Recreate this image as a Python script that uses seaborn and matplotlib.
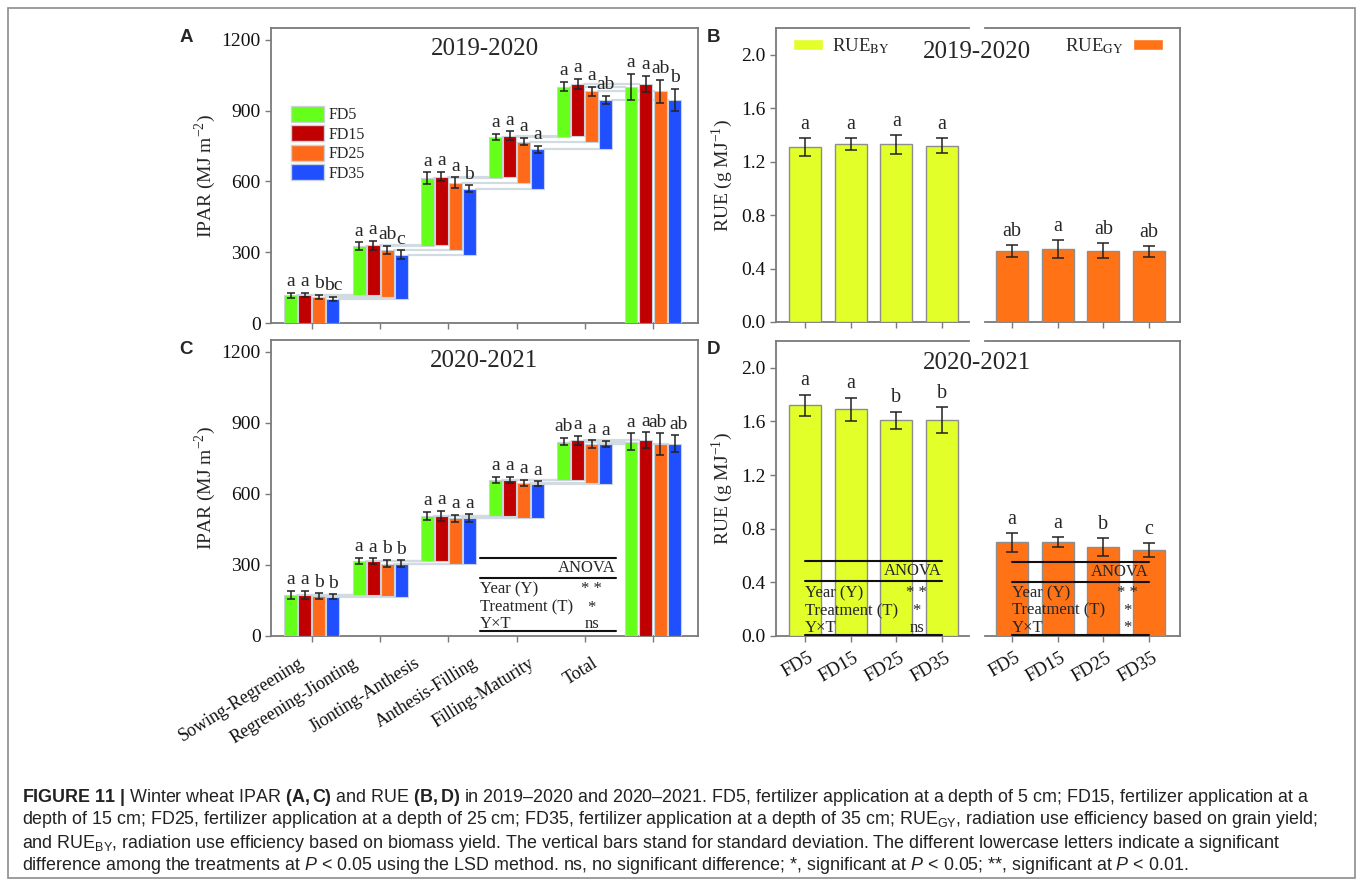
import numpy as np
import pandas as pd
import matplotlib
matplotlib.use("Agg")
import matplotlib.pyplot as plt
import seaborn as sns
from matplotlib.patches import Rectangle, Patch
from matplotlib.transforms import ScaledTranslation
from matplotlib import font_manager

# style
sns.set_theme(style="ticks")
plt.rcParams['font.family'] = ['Liberation Serif', 'DejaVu Serif']
plt.rcParams['mathtext.fontset'] = 'stix'

installed = {f.name for f in font_manager.fontManager.ttflist}
cap_font = 'Liberation Sans Narrow' if 'Liberation Sans Narrow' in installed else 'Liberation Sans'
cap_size = 15.5 if cap_font == 'Liberation Sans Narrow' else 12.9
plt.rcParams['mathtext.rm'] = cap_font
plt.rcParams['mathtext.it'] = cap_font + ':italic'
plt.rcParams['mathtext.bf'] = cap_font + ':bold'

# DATA
stages = ["Sowing-Regreening", "Regreening-Jionting", "Jionting-Anthesis",
          "Anthesis-Filling", "Filling-Maturity", "Total"]
treatments = ["FD5", "FD15", "FD25", "FD35"]
fd_colors = ["#66ff1a", "#c00000", "#ff6a1a", "#1f4fff"]

# cumulative IPAR at the end of each stage (rows = stage, cols = treatment)
ipar_1920 = [[118, 118, 111, 102],
             [326, 330, 309, 290],
             [613, 620, 594, 568],
             [787, 794, 769, 736],
             [1002, 1013, 981, 945]]
ipar_1920_sd = [[10, 8, 8, 10],
                [16, 19, 18, 18],
                [25, 20, 23, 15],
                [13, 18, 14, 15],
                [20, 20, 19, 16],
                [55, 35, 50, 46]]   # last row = Total
ipar_1920_letters = [["a", "a", "b", "bc"],
                     ["a", "a", "ab", "c"],
                     ["a", "a", "a", "b"],
                     ["a", "a", "a", "a"],
                     ["a", "a", "a", "ab"],
                     ["a", "a", "ab", "b"]]

ipar_2021 = [[173, 173, 168, 166],
             [317, 316, 306, 305],
             [508, 508, 497, 497],
             [660, 660, 646, 643],
             [821, 826, 811, 811]]
ipar_2021_sd = [[16, 16, 12, 10],
                [14, 12, 14, 14],
                [17, 21, 15, 17],
                [13, 12, 14, 10],
                [14, 19, 17, 11],
                [35, 34, 45, 36]]
ipar_2021_letters = [["a", "a", "b", "b"],
                     ["a", "a", "b", "b"],
                     ["a", "a", "a", "a"],
                     ["a", "a", "a", "a"],
                     ["ab", "a", "a", "a"],
                     ["a", "a", "ab", "ab"]]

rue_by_1920 = [1.31, 1.33, 1.33, 1.32]
rue_by_1920_sd = [0.065, 0.045, 0.07, 0.055]
rue_by_1920_letters = ["a", "a", "a", "a"]
rue_gy_1920 = [0.53, 0.545, 0.535, 0.53]
rue_gy_1920_sd = [0.045, 0.065, 0.053, 0.04]
rue_gy_1920_letters = ["ab", "a", "ab", "ab"]

rue_by_2021 = [1.72, 1.69, 1.61, 1.61]
rue_by_2021_sd = [0.08, 0.088, 0.063, 0.095]
rue_by_2021_letters = ["a", "a", "b", "b"]
rue_gy_2021 = [0.70, 0.70, 0.663, 0.638]
rue_gy_2021_sd = [0.07, 0.036, 0.065, 0.052]
rue_gy_2021_letters = ["a", "a", "b", "c"]

by_color = "#e2ff2a"
gy_color = "#ff7316"

# ANOVA tables (term, significance)
anova_ipar = [("Year (Y)", "* *"), ("Treatment (T)", "*"), ("Y\u00d7T", "ns")]
anova_by = [("Year (Y)", "* *"), ("Treatment (T)", "*"), ("Y\u00d7T", "ns")]
anova_gy = [("Year (Y)", "* *"), ("Treatment (T)", "*"), ("Y\u00d7T", "*")]

spine_col = "#7a7a7a"
W, H = 1358, 885
fig = plt.figure(figsize=(W / 100, H / 100), dpi=100)


def px_axes(l, t, r, b):
    return fig.add_axes([l / W, 1 - b / H, (r - l) / W, (b - t) / H])


def style_axes(ax):
    for s in ax.spines.values():
        s.set_color(spine_col)
        s.set_linewidth(1.3)
    ax.tick_params(direction='out', length=4, width=1, color=spine_col,
                   labelsize=14, labelcolor='#111111')


def letter_nudges(labels):
    # push neighbouring two-letter labels apart a little so they don't collide
    nudge = [0.0] * len(labels)
    for i in range(len(labels) - 1):
        if len(labels[i]) > 1 and len(labels[i + 1]) > 1:
            nudge[i] -= 2.0
            nudge[i + 1] += 2.5
    return nudge


def waterfall(ax, cum, sd, letters, title, show_labels):
    n = len(stages)
    width = 0.19
    prev = np.zeros(4)
    for k in range(n):
        step = 0.205 if k < n - 1 else 0.215
        offs = (np.arange(4) - 1.5) * step
        if k < n - 1:
            bottoms, tops = prev, np.array(cum[k], float)
        else:
            bottoms, tops = np.zeros(4), np.array(cum[-1], float)
        xs = k + offs
        ax.bar(xs, tops - bottoms, width=width, bottom=bottoms, color=fd_colors,
               edgecolor="#c9d1d9", linewidth=0.8, zorder=3)
        ax.errorbar(xs, tops, yerr=sd[k], fmt='none', ecolor='#222222',
                    elinewidth=1.1, capsize=3, capthick=1.1, zorder=4)
        for x, t, e, lab, dx in zip(xs, tops, sd[k], letters[k], letter_nudges(letters[k])):
            ax.annotate(lab, (x, t + e), xytext=(dx, 2), textcoords='offset points',
                        ha='center', va='bottom', fontsize=14, zorder=5, annotation_clip=False)
        # connectors to the next stage
        if k < n - 1:
            nstep = 0.205 if k + 1 < n - 1 else 0.215
            nxt = k + 1 + (np.arange(4) - 1.5) * nstep
            for i in range(4):
                ax.plot([xs[i] + width / 2, nxt[i] - width / 2], [tops[i], tops[i]],
                        color="#d3dbe2", lw=1.6, zorder=1)
        prev = tops
    ax.set_xlim(-0.6, 5.66)
    ax.set_ylim(0, 1250)
    ax.set_yticks([0, 300, 600, 900, 1200])
    ax.set_xticks(range(n))
    style_axes(ax)
    ax.set_ylabel(r"IPAR (MJ m$^{\mathregular{-2}}$)", fontsize=14)
    ax.yaxis.set_label_coords(-0.125, 0.5)
    ax.text(0.5, 0.93, title, transform=ax.transAxes, ha='center', va='center', fontsize=18)
    if show_labels:
        ax.set_xticklabels(stages, rotation=32, ha='right', rotation_mode='anchor', fontsize=13)
        shifts = [-10, -20, -25, -32, -41, -44]
        for lab, s in zip(ax.get_xticklabels(), shifts):
            lab.set_transform(lab.get_transform() + ScaledTranslation(s / 72, -6 / 72, fig.dpi_scale_trans))
    else:
        ax.set_xticklabels([])


def rue_bars(ax, vals, sd, letters, color, left_side, show_labels):
    df = pd.DataFrame({"treatment": treatments, "rue": vals})
    sns.barplot(data=df, x="treatment", y="rue", color=color, saturation=1, width=0.7,
                edgecolor="#8d8d8d", linewidth=1, errorbar=None, ax=ax, zorder=3)
    xs = np.arange(4)
    ax.errorbar(xs, vals, yerr=sd, fmt='none', ecolor='#222222', elinewidth=1.1,
                capsize=4, capthick=1.1, zorder=4)
    for x, v, e, lab in zip(xs, vals, sd, letters):
        ax.annotate(lab, (x, v + e), xytext=(0, 3), textcoords='offset points',
                    ha='center', va='bottom', fontsize=14.5, zorder=5)
    ax.set_ylim(0, 2.2)
    ax.set_xlabel("")
    style_axes(ax)
    if left_side:
        ax.set_xlim(-0.63, 3.59)
        ax.spines['right'].set_visible(False)
        ax.set_yticks([0, 0.4, 0.8, 1.2, 1.6, 2.0])
        ax.set_yticklabels(["0.0", "0.4", "0.8", "1.2", "1.6", "2.0"])
        ax.set_ylabel(r"RUE (g MJ$^{\mathregular{-1}}$)", fontsize=14)
        ax.yaxis.set_label_coords(-0.21, 0.5)
    else:
        ax.set_xlim(-0.59, 3.68)
        ax.spines['left'].set_visible(False)
        ax.set_yticks([])
        ax.set_ylabel("")
    if show_labels:
        ax.set_xticks(xs)
        ax.set_xticklabels(treatments, rotation=30, ha='right', fontsize=13.5)
        for lab in ax.get_xticklabels():
            lab.set_transform(lab.get_transform() + ScaledTranslation(8 / 72, -2 / 72, fig.dpi_scale_trans))
    else:
        ax.set_xticklabels([])


def anova_table(ax, x0, x1, xc, y_top, y_mid, y_bot, rows, row_y, head_y):
    for y in (y_top, y_mid, y_bot):
        ax.plot([x0, x1], [y, y], color='#111111', lw=1.5, zorder=6, clip_on=False)
    ax.text(x1, head_y, "ANOVA", ha='right', va='center', fontsize=12, zorder=7)
    for (term, sig), y in zip(rows, row_y):
        ax.text(x0, y, term, ha='left', va='center', fontsize=12, zorder=7)
        ax.text(xc, y, sig, ha='center', va='center', fontsize=12, zorder=7)


# Panel A
axA = px_axes(271, 28, 698, 323)
waterfall(axA, ipar_1920, ipar_1920_sd, ipar_1920_letters, "2019-2020", False)
handles = [Patch(facecolor=c, edgecolor="#c9d1d9", label=t) for c, t in zip(fd_colors, treatments)]
axA.legend(handles=handles, loc='upper left', bbox_to_anchor=(0.02, 0.775), frameon=False,
           fontsize=11.5, handlelength=2.1, handleheight=1.2, labelspacing=0.12,
           handletextpad=0.25, borderpad=0.2)

# Panel C
axC = px_axes(271, 340, 698, 636)
waterfall(axC, ipar_2021, ipar_2021_sd, ipar_2021_letters, "2020-2021", True)
anova_table(axC, 2.464, 4.455, 4.10, 331, 247, 21, anova_ipar, [198, 119, 49], 289)

# Panel B
axB1 = px_axes(776, 28, 969, 322)
axB2 = px_axes(985, 28, 1180, 322)
rue_bars(axB1, rue_by_1920, rue_by_1920_sd, rue_by_1920_letters, by_color, True, False)
rue_bars(axB2, rue_gy_1920, rue_gy_1920_sd, rue_gy_1920_letters, gy_color, False, False)
axB1.legend(handles=[Patch(facecolor=by_color, label="RUE$_{\\mathrm{BY}}$")], loc='upper left',
            bbox_to_anchor=(0.0, 1.03), frameon=False, fontsize=13.5, handlelength=1.6,
            handleheight=0.5, handletextpad=0.5)
axB2.legend(handles=[Patch(facecolor=gy_color, label="RUE$_{\\mathrm{GY}}$")], loc='upper right',
            bbox_to_anchor=(1.0, 1.03), frameon=False, fontsize=13.5, handlelength=1.6,
            handleheight=0.5, handletextpad=0.5, markerfirst=False)
fig.text(977 / W, 1 - 52 / H, "2019-2020", ha='center', va='center', fontsize=18)

# Panel D
axD1 = px_axes(776, 341, 969, 636)
axD2 = px_axes(985, 341, 1180, 636)
rue_bars(axD1, rue_by_2021, rue_by_2021_sd, rue_by_2021_letters, by_color, True, True)
rue_bars(axD2, rue_gy_2021, rue_gy_2021_sd, rue_gy_2021_letters, gy_color, False, True)
anova_table(axD1, 0, 3, 2.45, 0.56, 0.41, 0.005, anova_by, [0.32, 0.187, 0.057], 0.485)
anova_table(axD2, 0, 3, 2.52, 0.555, 0.40, 0.005, anova_gy, [0.32, 0.19, 0.057], 0.48)
fig.text(977 / W, 1 - 363 / H, "2020-2021", ha='center', va='center', fontsize=18)

# panel letters
for lab, x, y in [("A", 186, 38), ("B", 713, 38), ("C", 186, 350), ("D", 713, 349)]:
    fig.text(x / W, 1 - y / H, lab, ha='center', va='center', fontsize=13.5,
             fontweight='bold', family='Liberation Sans')

# outer frame
fig.add_artist(Rectangle((8 / W, 1 - 878 / H), (1355 - 8) / W, (878 - 8) / H,
                         transform=fig.transFigure, fill=False, ec='#8c8c8c', lw=1.2))

# caption
caption = [
    r"$\mathbf{FIGURE\ 11\ |}$ Winter wheat IPAR $\mathbf{(A,C)}$ and RUE $\mathbf{(B,D)}$ in 2019–2020 and 2020–2021. "
    r"FD5, fertilizer application at a depth of 5 cm; FD15, fertilizer application at a",
    r"depth of 15 cm; FD25, fertilizer application at a depth of 25 cm; FD35, fertilizer application at a depth of 35 cm; "
    r"RUE$_{\mathrm{GY}}$, radiation use efficiency based on grain yield;",
    r"and RUE$_{\mathrm{BY}}$, radiation use efficiency based on biomass yield. The vertical bars stand for standard deviation. "
    r"The different lowercase letters indicate a significant",
    r"difference among the treatments at $\mathit{P}$ < 0.05 using the LSD method. ns, no significant difference; *, "
    r"significant at $\mathit{P}$ < 0.05; **, significant at $\mathit{P}$ < 0.01.",
]
for line, y in zip(caption, [797, 820, 843, 866]):
    t = fig.text(22 / W, 1 - y / H, line, ha='left', va='center', fontsize=cap_size,
                 family=cap_font, color='#222222')
    t.set_math_fontfamily('custom')

fig.savefig("out.png", dpi=100)
